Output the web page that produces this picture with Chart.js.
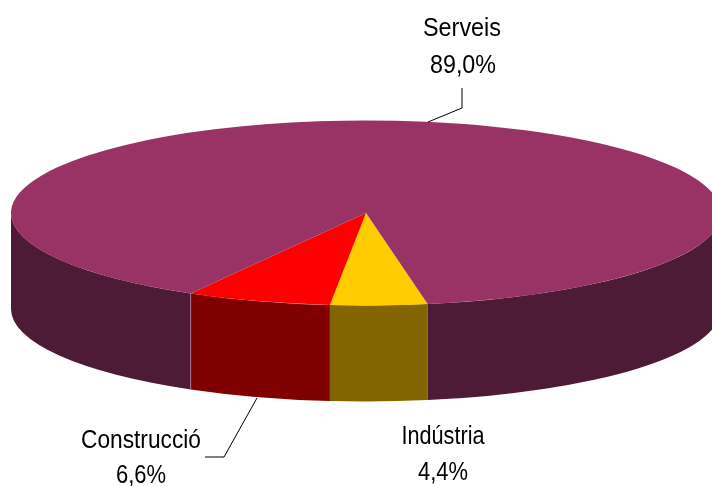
<!DOCTYPE html>
<html>
<head>
<meta charset="utf-8">
<style>html,body{margin:0;padding:0;background:#fff}canvas{display:block}</style>
<script src="https://cdn.jsdelivr.net/npm/chart.js@4/dist/chart.umd.min.js"></script>
</head>
<body>
<canvas id="c" width="712" height="486"></canvas>
<script>
const categories = ['Indústria', 'Construcció', 'Serveis'];
const shares = [4.4, 6.6, 89.0];
const topColors = ['#FFCC00', '#FF0000', '#993366'];
const wallColors = ['#836500', '#800000', '#4D1B35'];
const namePlaces = [[443, 436.5], [141, 440.5], [462, 29]];
const valuePlaces = [[443, 472.5], [141, 475.5], [463, 66]];
const nameWidths = [83, 120, 78];
const valueWidths = [50, 50, 66];
const leaders = [null, [[205,457],[224,457],[257,398]], [[462,88],[462,108],[428,122]]];

const rx = 355, ry = 92.5, wallH = 96;

const pie3d = {
  id: 'pie3d',
  beforeDatasetsDraw(chart) {
    const ctx = chart.ctx, arcs = chart.getDatasetMeta(0).data;
    const cx = arcs[0].x, cy = arcs[0].y, R = arcs[0].outerRadius;
    const sx = rx / R, sy = ry / R;
    arcs.forEach((a, i) => {
      for (let k = -1; k <= 2; k++) {
        const s = Math.max(a.startAngle, 2 * Math.PI * k);
        const e = Math.min(a.endAngle, Math.PI + 2 * Math.PI * k);
        if (e <= s) continue;
        ctx.beginPath();
        ctx.ellipse(cx, cy, rx, ry, 0, s, e);
        ctx.ellipse(cx, cy + wallH, rx, ry, 0, e, s, true);
        ctx.closePath();
        ctx.fillStyle = wallColors[i];
        ctx.fill();
      }
    });
    const last = arcs[arcs.length - 1];
    const ex = cx + rx * Math.cos(last.startAngle), ey = cy + ry * Math.sin(last.startAngle);
    ctx.beginPath();
    ctx.moveTo(ex, ey);
    ctx.lineTo(ex, ey + wallH);
    ctx.strokeStyle = '#A8748E';
    ctx.lineWidth = 1;
    ctx.stroke();
    ctx.save();
    ctx.translate(cx, cy);
    ctx.scale(sx, sy);
    ctx.translate(-cx, -cy);
  },
  afterDatasetsDraw(chart) {
    const ctx = chart.ctx;
    ctx.restore();
    ctx.strokeStyle = '#000';
    ctx.lineWidth = 1;
    leaders.forEach(l => {
      if (!l) return;
      ctx.beginPath();
      l.forEach((p, i) => i ? ctx.lineTo(p[0], p[1]) : ctx.moveTo(p[0], p[1]));
      ctx.stroke();
    });
    ctx.fillStyle = '#000';
    ctx.font = '26.5px "Liberation Sans", Arial, sans-serif';
    ctx.textAlign = 'center';
    ctx.textBaseline = 'middle';
    categories.forEach((name, i) => {
      ctx.fillText(name, namePlaces[i][0], namePlaces[i][1], nameWidths[i]);
      ctx.fillText(shares[i].toFixed(1).replace('.', ',') + '%', valuePlaces[i][0], valuePlaces[i][1], valueWidths[i]);
    });
  }
};

new Chart(document.getElementById('c'), {
  type: 'pie',
  data: {
    labels: categories,
    datasets: [{ data: shares, backgroundColor: topColors, borderWidth: 0 }]
  },
  options: {
    responsive: false,
    animation: false,
    rotation: 170,
    layout: { padding: { left: 20, right: 0, top: 0, bottom: 60 } },
    plugins: { legend: { display: false }, tooltip: { enabled: false } }
  },
  plugins: [pie3d]
});
</script>
</body>
</html>
